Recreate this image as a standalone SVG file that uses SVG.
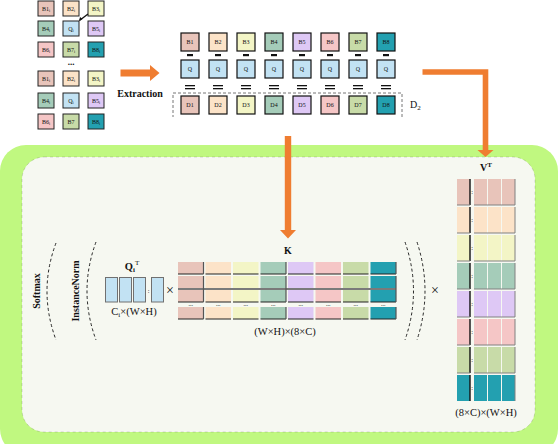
<svg xmlns="http://www.w3.org/2000/svg" width="558" height="444" viewBox="0 0 558 444">
<defs>
<style>
.t{font-family:"Liberation Serif","Times New Roman",serif;fill:#111}
.tiny{font-size:6px;text-anchor:middle}
.c1{fill:#E8C4BA}.c2{fill:#FCE3C8}.c3{fill:#F3F5C6}.c4{fill:#A5CCB9}
.c5{fill:#DEC8F5}.c6{fill:#F5C6C6}.c7{fill:#C8DBA8}.c8{fill:#23A0B0}.cq{fill:#C2E2F3}
.bx{stroke:#222;stroke-width:1}
.ex{stroke:#111;stroke-width:1.2}
.qb{stroke:#707070;stroke-width:1}
.arc{fill:none;stroke:#111;stroke-width:0.9;stroke-dasharray:3 2.5}
.orange{fill:#EF7D31}
.edgeB{stroke:#222;stroke-width:1.2}
.edgeR{stroke:#555;stroke-width:1.2}
.vg{stroke:#808080;stroke-width:1}
</style>
</defs>
<rect width="558" height="444" fill="#ffffff"/>

<!-- panel -->
<g id="panel">
<rect x="0" y="145" width="558" height="310" rx="26" fill="#C0F880"/>
<rect x="22" y="157" width="513" height="275" rx="22" fill="#F6F8F1" stroke="#333" stroke-width="0.5" stroke-dasharray="3 3" stroke-opacity="0.35"/>
</g>

<!-- top-left grid -->
<g id="grid1">
<rect class="c1 bx" x="38" y="1" width="16" height="15"/><text class="t tiny" x="46" y="11">B1<tspan font-size="4" dy="1">i</tspan></text>
<rect class="c2 bx" x="63" y="1" width="16" height="15"/><text class="t tiny" x="71" y="11">B2<tspan font-size="4" dy="1">i</tspan></text>
<rect class="c3 bx" x="88" y="1" width="16" height="15"/><text class="t tiny" x="96" y="11">B3<tspan font-size="4" dy="1">i</tspan></text>
<rect class="c4 bx" x="38" y="21" width="16" height="15"/><text class="t tiny" x="46" y="31">B4<tspan font-size="4" dy="1">i</tspan></text>
<rect class="cq bx" x="63" y="21" width="16" height="15"/><text class="t tiny" x="71" y="31">Q<tspan font-size="4" dy="1">i</tspan></text>
<rect class="c5 bx" x="88" y="21" width="16" height="15"/><text class="t tiny" x="96" y="31">B5<tspan font-size="4" dy="1">i</tspan></text>
<rect class="c6 bx" x="38" y="42" width="16" height="15"/><text class="t tiny" x="46" y="52">B6<tspan font-size="4" dy="1">i</tspan></text>
<rect class="c7 bx" x="63" y="42" width="16" height="15"/><text class="t tiny" x="71" y="52">B7<tspan font-size="4" dy="1">i</tspan></text>
<rect class="c8 bx" x="88" y="42" width="16" height="15"/><text class="t tiny" x="96" y="52">B8<tspan font-size="4" dy="1">i</tspan></text>
<path d="M79.5 20.5 L88 14" stroke="#111" stroke-width="1.3" fill="none"/>
<path d="M79 21 L80 17 L82.5 19 Z" fill="#111"/>
<text class="t" x="71" y="65" font-size="9" font-weight="bold" text-anchor="middle">...</text>
</g>
<g id="grid2">
<rect class="c1 bx" x="38" y="71" width="16" height="15"/><text class="t tiny" x="46" y="81">B1<tspan font-size="4" dy="1">i</tspan></text>
<rect class="c2 bx" x="63" y="71" width="16" height="15"/><text class="t tiny" x="71" y="81">B2<tspan font-size="4" dy="1">i</tspan></text>
<rect class="c3 bx" x="88" y="71" width="16" height="15"/><text class="t tiny" x="96" y="81">B3<tspan font-size="4" dy="1">i</tspan></text>
<rect class="c4 bx" x="38" y="93" width="16" height="15"/><text class="t tiny" x="46" y="103">B4<tspan font-size="4" dy="1">i</tspan></text>
<rect class="cq bx" x="63" y="93" width="16" height="15"/><text class="t tiny" x="71" y="103">Q<tspan font-size="4" dy="1">i</tspan></text>
<rect class="c5 bx" x="88" y="93" width="16" height="15"/><text class="t tiny" x="96" y="103">B5<tspan font-size="4" dy="1">i</tspan></text>
<rect class="c6 bx" x="38" y="114" width="16" height="15"/><text class="t tiny" x="46" y="124">B6<tspan font-size="4" dy="1">i</tspan></text>
<rect class="c7 bx" x="63" y="114" width="16" height="15"/><text class="t tiny" x="71" y="124">B7</text>
<rect class="c8 bx" x="88" y="114" width="16" height="15"/><text class="t tiny" x="96" y="124">B8<tspan font-size="4" dy="1">i</tspan></text>
</g>

<!-- extraction -->
<g id="extraction">
<text class="t" x="140" y="97" font-size="10" font-weight="bold" text-anchor="middle">Extraction</text>
<path d="M402 117 V93 H173 V117" fill="none" stroke="#777" stroke-width="1" stroke-dasharray="3 2"/>
<text class="t" x="410" y="108" font-size="10">D<tspan font-size="7" dy="2">2</tspan></text>
<g id="rowB">
<rect class="c1 ex" x="181" y="33" width="18" height="18"/><text class="t tiny" x="190" y="44">B1</text>
<rect class="c2 ex" x="209" y="33" width="18" height="18"/><text class="t tiny" x="218" y="44">B2</text>
<rect class="c3 ex" x="237" y="33" width="18" height="18"/><text class="t tiny" x="246" y="44">B3</text>
<rect class="c4 ex" x="265" y="33" width="18" height="18"/><text class="t tiny" x="274" y="44">B4</text>
<rect class="c5 ex" x="293" y="33" width="18" height="18"/><text class="t tiny" x="302" y="44">B5</text>
<rect class="c6 ex" x="321" y="33" width="18" height="18"/><text class="t tiny" x="330" y="44">B6</text>
<rect class="c7 ex" x="349" y="33" width="18" height="18"/><text class="t tiny" x="358" y="44">B7</text>
<rect class="c8 ex" x="377" y="33" width="18" height="18"/><text class="t tiny" x="386" y="44">B8</text>
</g>
<g id="minus" fill="#111">
<rect x="187" y="54" width="6" height="2.2"/><rect x="215" y="54" width="6" height="2.2"/><rect x="243" y="54" width="6" height="2.2"/><rect x="271" y="54" width="6" height="2.2"/>
<rect x="299" y="54" width="6" height="2.2"/><rect x="327" y="54" width="6" height="2.2"/><rect x="355" y="54" width="6" height="2.2"/><rect x="383" y="54" width="6" height="2.2"/>
</g>
<g id="rowQ">
<rect class="cq ex" x="181" y="60" width="18" height="18"/><text class="t tiny" x="190" y="71">Q</text>
<rect class="cq ex" x="209" y="60" width="18" height="18"/><text class="t tiny" x="218" y="71">Q</text>
<rect class="cq ex" x="237" y="60" width="18" height="18"/><text class="t tiny" x="246" y="71">Q</text>
<rect class="cq ex" x="265" y="60" width="18" height="18"/><text class="t tiny" x="274" y="71">Q</text>
<rect class="cq ex" x="293" y="60" width="18" height="18"/><text class="t tiny" x="302" y="71">Q</text>
<rect class="cq ex" x="321" y="60" width="18" height="18"/><text class="t tiny" x="330" y="71">Q</text>
<rect class="cq ex" x="349" y="60" width="18" height="18"/><text class="t tiny" x="358" y="71">Q</text>
<rect class="cq ex" x="377" y="60" width="18" height="18"/><text class="t tiny" x="386" y="71">Q</text>
</g>
<g id="equals" fill="#111">
<rect x="185" y="85" width="10" height="1.3"/><rect x="185" y="88" width="10" height="1.3"/>
<rect x="213" y="85" width="10" height="1.3"/><rect x="213" y="88" width="10" height="1.3"/>
<rect x="241" y="85" width="10" height="1.3"/><rect x="241" y="88" width="10" height="1.3"/>
<rect x="269" y="85" width="10" height="1.3"/><rect x="269" y="88" width="10" height="1.3"/>
<rect x="297" y="85" width="10" height="1.3"/><rect x="297" y="88" width="10" height="1.3"/>
<rect x="325" y="85" width="10" height="1.3"/><rect x="325" y="88" width="10" height="1.3"/>
<rect x="353" y="85" width="10" height="1.3"/><rect x="353" y="88" width="10" height="1.3"/>
<rect x="381" y="85" width="10" height="1.3"/><rect x="381" y="88" width="10" height="1.3"/>
</g>
<g id="rowD">
<rect class="c1 ex" x="181" y="96" width="18" height="18"/><text class="t tiny" x="190" y="107">D1</text>
<rect class="c2 ex" x="209" y="96" width="18" height="18"/><text class="t tiny" x="218" y="107">D2</text>
<rect class="c3 ex" x="237" y="96" width="18" height="18"/><text class="t tiny" x="246" y="107">D3</text>
<rect class="c4 ex" x="265" y="96" width="18" height="18"/><text class="t tiny" x="274" y="107">D4</text>
<rect class="c5 ex" x="293" y="96" width="18" height="18"/><text class="t tiny" x="302" y="107">D5</text>
<rect class="c6 ex" x="321" y="96" width="18" height="18"/><text class="t tiny" x="330" y="107">D6</text>
<rect class="c7 ex" x="349" y="96" width="18" height="18"/><text class="t tiny" x="358" y="107">D7</text>
<rect class="c8 ex" x="377" y="96" width="18" height="18"/><text class="t tiny" x="386" y="107">D8</text>
</g>
</g>

<!-- connectors -->
<g id="connectors">
<path class="orange" d="M120.5 69.5 H150 V65 L159.5 73 L150 81 V76.5 H120.5 Z"/>
<path class="orange" d="M284.8 136 H291.2 V230 H296 L288 238.5 L280 230 H284.8 Z"/>
<path class="orange" d="M422.5 69.3 H488.3 V150 H493.5 L485.5 157 L477.5 150 H482.7 V74.7 H422.5 Z"/>
</g>

<!-- norm labels and arcs -->
<g id="softmax">
<text class="t" transform="translate(39.5 291) rotate(-90)" font-size="10" font-weight="bold" text-anchor="middle">Softmax</text>
<path class="arc" d="M56 243 Q38 291 56 340"/>
</g>
<g id="instancenorm">
<text class="t" transform="translate(78.5 291) rotate(-90)" font-size="10" font-weight="bold" text-anchor="middle">InstanceNorm</text>
<path class="arc" d="M96 242 Q78 291 96 340"/>
<path class="arc" d="M405 242 Q422 291 405 340"/>
<path class="arc" d="M417 242 Q433 291 417 340"/>
</g>

<!-- Q^T -->
<g id="QT">
<text class="t" x="132" y="270" font-size="10.5" font-weight="bold" text-anchor="middle">Q<tspan font-size="7" dy="2">i</tspan><tspan font-size="7" dy="-7" font-weight="normal">T</tspan></text>
<rect class="cq qb" x="105.5" y="277.5" width="12" height="24.5"/>
<rect class="cq qb" x="119.5" y="277.5" width="12" height="24.5"/>
<rect class="cq qb" x="133.5" y="277.5" width="12" height="24.5"/>
<rect class="cq qb" x="151.5" y="277.5" width="12" height="24.5"/>
<text class="t" x="148.5" y="293" font-size="6" text-anchor="middle">:</text>
<text class="t" x="134" y="315" font-size="10.5" text-anchor="middle">C<tspan font-size="7" dy="2">i</tspan><tspan dy="-2">×(W×H)</tspan></text>
<text class="t" x="170" y="294.5" font-size="14" text-anchor="middle">×</text>
</g>

<!-- K -->
<g id="K">
<text class="t" x="288" y="254" font-size="10" font-weight="bold" text-anchor="middle">K</text>
<g id="kcells">
<rect class="c1" x="178" y="262" width="25.5" height="12"/><rect class="c1" x="178" y="276" width="25.5" height="26"/><rect class="c1" x="178" y="307" width="25.5" height="12"/>
<rect class="c2" x="205.5" y="262" width="25.5" height="12"/><rect class="c2" x="205.5" y="276" width="25.5" height="26"/><rect class="c2" x="205.5" y="307" width="25.5" height="12"/>
<rect class="c3" x="233" y="262" width="25.5" height="12"/><rect class="c3" x="233" y="276" width="25.5" height="26"/><rect class="c3" x="233" y="307" width="25.5" height="12"/>
<rect class="c4" x="260.5" y="262" width="25.5" height="12"/><rect class="c4" x="260.5" y="276" width="25.5" height="26"/><rect class="c4" x="260.5" y="307" width="25.5" height="12"/>
<rect class="c5" x="288" y="262" width="25.5" height="12"/><rect class="c5" x="288" y="276" width="25.5" height="26"/><rect class="c5" x="288" y="307" width="25.5" height="12"/>
<rect class="c6" x="315.5" y="262" width="25.5" height="12"/><rect class="c6" x="315.5" y="276" width="25.5" height="26"/><rect class="c6" x="315.5" y="307" width="25.5" height="12"/>
<rect class="c7" x="343" y="262" width="25.5" height="12"/><rect class="c7" x="343" y="276" width="25.5" height="26"/><rect class="c7" x="343" y="307" width="25.5" height="12"/>
<rect class="c8" x="370.5" y="262" width="25.5" height="12"/><rect class="c8" x="370.5" y="276" width="25.5" height="26"/><rect class="c8" x="370.5" y="307" width="25.5" height="12"/>
</g>
<path d="M178 289 H396" stroke="#7a7a7a" stroke-width="2"/>
<g id="kbottoms" fill="none" class="edgeB">
<path d="M178 274 H203.5 M205.5 274 H231 M233 274 H258.5 M260.5 274 H286 M288 274 H313.5 M315.5 274 H341 M343 274 H368.5 M370.5 274 H396"/>
<path d="M178 302 H203.5 M205.5 302 H231 M233 302 H258.5 M260.5 302 H286 M288 302 H313.5 M315.5 302 H341 M343 302 H368.5 M370.5 302 H396"/>
<path d="M178 319 H203.5 M205.5 319 H231 M233 319 H258.5 M260.5 319 H286 M288 319 H313.5 M315.5 319 H341 M343 319 H368.5 M370.5 319 H396"/>
</g>
<g id="krights" fill="none" class="edgeR">
<path d="M203.5 262 V274 M203.5 276 V302 M203.5 307 V319"/>
<path d="M286 262 V274 M286 276 V302 M286 307 V319"/>
<path d="M396 262 V274 M396 276 V302 M396 307 V319"/>
</g>
<g class="t" font-size="6" text-anchor="middle">
<text x="190.7" y="306">...</text><text x="218.2" y="306">...</text><text x="245.7" y="306">...</text><text x="273.2" y="306">...</text>
<text x="300.7" y="306">...</text><text x="328.2" y="306">...</text><text x="355.7" y="306">...</text><text x="383.2" y="306">...</text>
</g>
<text class="t" x="285" y="335" font-size="10.5" text-anchor="middle">(W×H)×(8×C)</text>
<text class="t" x="435" y="294.5" font-size="14" text-anchor="middle">×</text>
</g>

<!-- V^T -->
<g id="VT">
<text class="t" x="486" y="171" font-size="10" font-weight="bold" text-anchor="middle">V<tspan font-size="7" dy="-4">T</tspan></text>
<g id="vrow1">
<rect class="c1" x="457" y="179" width="13" height="26"/><rect class="c1" x="474" y="179" width="13" height="26"/><rect class="c1" x="488" y="179" width="13" height="26"/><rect class="c1" x="502" y="179" width="13" height="26"/>
</g>
<g id="vrow2">
<rect class="c2" x="457" y="207" width="13" height="26"/><rect class="c2" x="474" y="207" width="13" height="26"/><rect class="c2" x="488" y="207" width="13" height="26"/><rect class="c2" x="502" y="207" width="13" height="26"/>
</g>
<g id="vrow3">
<rect class="c3" x="457" y="235" width="13" height="26"/><rect class="c3" x="474" y="235" width="13" height="26"/><rect class="c3" x="488" y="235" width="13" height="26"/><rect class="c3" x="502" y="235" width="13" height="26"/>
</g>
<g id="vrow4">
<rect class="c4" x="457" y="263" width="13" height="26"/><rect class="c4" x="474" y="263" width="13" height="26"/><rect class="c4" x="488" y="263" width="13" height="26"/><rect class="c4" x="502" y="263" width="13" height="26"/>
</g>
<g id="vrow5">
<rect class="c5" x="457" y="291" width="13" height="26"/><rect class="c5" x="474" y="291" width="13" height="26"/><rect class="c5" x="488" y="291" width="13" height="26"/><rect class="c5" x="502" y="291" width="13" height="26"/>
</g>
<g id="vrow6">
<rect class="c6" x="457" y="319" width="13" height="26"/><rect class="c6" x="474" y="319" width="13" height="26"/><rect class="c6" x="488" y="319" width="13" height="26"/><rect class="c6" x="502" y="319" width="13" height="26"/>
</g>
<g id="vrow7">
<rect class="c7" x="457" y="347" width="13" height="26"/><rect class="c7" x="474" y="347" width="13" height="26"/><rect class="c7" x="488" y="347" width="13" height="26"/><rect class="c7" x="502" y="347" width="13" height="26"/>
</g>
<g id="vrow8">
<rect class="c8" x="457" y="375" width="13" height="26"/><rect class="c8" x="474" y="375" width="13" height="26"/><rect class="c8" x="488" y="375" width="13" height="26"/><rect class="c8" x="502" y="375" width="13" height="26"/>
</g>
<g fill="none" stroke="#111" stroke-width="1.4">
<path d="M470 179 V205 M470 207 V233 M470 235 V261 M470 263 V289 M470 291 V317 M470 319 V345 M470 347 V373 M470 375 V401"/>
</g>
<g fill="none" class="vg">
<path d="M457 205 H470 M474 205 H515 M457 233 H470 M474 233 H515 M457 261 H470 M474 261 H515 M457 289 H470 M474 289 H515 M457 317 H470 M474 317 H515 M457 345 H470 M474 345 H515 M457 373 H470 M474 373 H515"/>
<path d="M515 179 V205 M515 207 V233 M515 235 V261 M515 263 V289 M515 291 V317 M515 319 V345 M515 347 V373 M515 375 V401"/>
</g>
<g class="t" font-size="6" text-anchor="middle">
<text x="472" y="194">:</text><text x="472" y="222">:</text><text x="472" y="250">:</text><text x="472" y="278">:</text>
<text x="472" y="306">:</text><text x="472" y="334">:</text><text x="472" y="362">:</text><text x="472" y="390">:</text>
</g>
<text class="t" x="486" y="416" font-size="10.5" text-anchor="middle">(8×C)×(W×H)</text>
</g>
</svg>
